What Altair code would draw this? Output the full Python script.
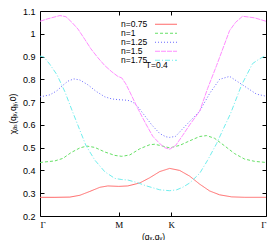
import altair as alt
import pandas as pd

# k-path coordinate: Gamma -> M -> K -> Gamma
tick_pos = [0.0, 0.79, 1.315, 2.265]
tick_lab = ["Γ", "M", "K", "Γ"]
y_ticks = [0.2, 0.3, 0.4, 0.5, 0.6, 0.7, 0.8, 0.9, 1, 1.1]

names = ["n=0.75", "n=1", "n=1.25", "n=1.5", "n=1.75"]
colors = ["#ff6a6a", "#66e066", "#6a6aff", "#ff8cff", "#70eeee"]
dashes = [[1, 0], [3, 2], [1, 2], [5, 1], [5, 2, 1, 2]]

x_075 = [0, 0.15, 0.30, 0.40, 0.50, 0.60, 0.68, 0.79, 0.88, 1.00, 1.10, 1.20, 1.30,
         1.40, 1.50, 1.60, 1.70, 1.80, 1.92, 2.05, 2.265]
y_075 = [0.282, 0.282, 0.283, 0.291, 0.308, 0.326, 0.332, 0.330, 0.332, 0.345, 0.368,
         0.395, 0.409, 0.400, 0.375, 0.340, 0.310, 0.293, 0.284, 0.282, 0.282]

x_100 = [0, 0.15, 0.23, 0.31, 0.40, 0.47, 0.55, 0.65, 0.75, 0.82, 0.90, 1.00, 1.10,
         1.15, 1.22, 1.30, 1.40, 1.50, 1.60, 1.67, 1.75, 1.85, 1.95, 2.05, 2.15, 2.265]
y_100 = [0.435, 0.442, 0.453, 0.478, 0.499, 0.507, 0.501, 0.481, 0.466, 0.462, 0.468,
         0.495, 0.513, 0.515, 0.508, 0.499, 0.510, 0.530, 0.549, 0.553, 0.541, 0.508,
         0.474, 0.450, 0.440, 0.435]

x_125 = [0, 0.10, 0.17, 0.23, 0.28, 0.34, 0.40, 0.48, 0.56, 0.65, 0.72, 0.78, 0.88,
         0.93, 0.98, 1.05, 1.12, 1.20, 1.26, 1.30, 1.36, 1.43, 1.50, 1.60, 1.70, 1.80,
         1.90, 1.98, 2.07, 2.17, 2.265]
y_125 = [0.723, 0.732, 0.750, 0.774, 0.792, 0.802, 0.797, 0.776, 0.748, 0.723, 0.714,
         0.711, 0.708, 0.700, 0.680, 0.640, 0.600, 0.562, 0.548, 0.545, 0.550, 0.583,
         0.615, 0.660, 0.738, 0.800, 0.813, 0.790, 0.764, 0.735, 0.726]

x_150 = [0, 0.08, 0.20, 0.26, 0.32, 0.38, 0.45, 0.51, 0.58, 0.65, 0.72, 0.78, 0.82,
         0.86, 0.90, 0.98, 1.06, 1.13, 1.20, 1.25, 1.30, 1.36, 1.43, 1.50, 1.60, 1.68,
         1.77, 1.90, 1.96, 2.03, 2.15, 2.265]
y_150 = [1.055, 1.066, 1.080, 1.075, 1.050, 1.021, 0.975, 0.934, 0.895, 0.860, 0.833,
         0.813, 0.806, 0.780, 0.745, 0.672, 0.605, 0.550, 0.518, 0.500, 0.493, 0.510,
         0.554, 0.600, 0.660, 0.760, 0.861, 1.014, 1.050, 1.077, 1.070, 1.055]

x_175 = [0, 0.04, 0.10, 0.17, 0.25, 0.32, 0.40, 0.46, 0.55, 0.65, 0.75, 0.82, 0.88,
         0.98, 1.06, 1.13, 1.20, 1.30, 1.37, 1.43, 1.50, 1.60, 1.68, 1.77, 1.84, 1.91,
         2.02, 2.13, 2.20, 2.265]
y_175 = [0.902, 0.898, 0.865, 0.820, 0.745, 0.665, 0.576, 0.510, 0.445, 0.394, 0.365,
         0.360, 0.358, 0.346, 0.333, 0.324, 0.315, 0.311, 0.315, 0.326, 0.345, 0.387,
         0.445, 0.518, 0.585, 0.650, 0.775, 0.869, 0.890, 0.905]

note_x = [1.06]
note_y = [0.865]
note_text = ["T=0.4"]

series = [(names[0], x_075, y_075), (names[1], x_100, y_100), (names[2], x_125, y_125),
          (names[3], x_150, y_150), (names[4], x_175, y_175)]
rows = []
for name, xs, ys in series:
    for i, (xv, yv) in enumerate(zip(xs, ys)):
        rows.append({"series": name, "x": xv, "y": yv, "order": i})
df = pd.DataFrame(rows)
note_df = pd.DataFrame({"x": note_x, "y": note_y, "text": note_text})

W, H = 226, 205
xscale = alt.Scale(domain=[tick_pos[0], tick_pos[-1]], nice=False, zero=False)
yscale = alt.Scale(domain=[0.2, 1.1], nice=False, zero=False)

pos_list = ",".join(str(p) for p in tick_pos)
lab_list = ",".join("'" + t + "'" for t in tick_lab)
xlabel_expr = f"[{lab_list}][indexof([{pos_list}], datum.value)]"

legend = alt.Legend(
    title=None, orient="none", legendX=72.5, legendY=9, padding=0,
    symbolType="M38.25,0H60.25", symbolSize=4, symbolStrokeWidth=1,
    symbolOffset=0, labelOffset=0, labelAlign="left",
    labelFont="Liberation Sans", labelFontSize=8.5, labelColor="black",
    rowPadding=-1,
)

lines = alt.Chart(df).mark_line(strokeWidth=1, clip=True).encode(
    x=alt.X("x:Q", scale=xscale, axis=alt.Axis(
        values=tick_pos, labelExpr=xlabel_expr, ticks=False, tickSize=0, domain=False,
        grid=False, title="(qₓ,qᵧ)", labelFont="Liberation Serif", labelFontSize=9,
        labelColor="black", labelPadding=4, titleFont="Liberation Sans",
        titleFontSize=8.5, titleFontWeight="normal", titleColor="black", titlePadding=3)),
    y=alt.Y("y:Q", scale=yscale, axis=alt.Axis(
        values=y_ticks, format="~g", ticks=False, tickSize=0, domain=False, grid=False,
        title="χₐₛ(qₓ,qᵧ,0)", labelFont="Liberation Sans", labelFontSize=9,
        labelColor="black", labelPadding=5, titleFont="Liberation Sans",
        titleFontSize=8.5, titleFontWeight="normal", titleColor="black", titlePadding=5)),
    color=alt.Color("series:N", scale=alt.Scale(domain=names, range=colors), legend=legend),
    strokeDash=alt.StrokeDash("series:N", scale=alt.Scale(domain=names, range=dashes), legend=legend),
    order="order:Q",
)

note = alt.Chart(note_df).mark_text(align="left", baseline="middle", fontSize=8.5,
                                    font="Liberation Sans", color="black").encode(
    x=alt.X("x:Q", scale=xscale, axis=None),
    y=alt.Y("y:Q", scale=yscale, axis=None),
    text="text:N",
)

def tick_layer(xorient, yorient):
    return alt.Chart(df).mark_point(opacity=0).encode(
        x=alt.X("x:Q", scale=xscale, axis=alt.Axis(
            orient=xorient, offset=-H, values=tick_pos[1:3], labels=False, domain=False,
            grid=False, ticks=True, tickSize=4, tickColor="black", title=None)),
        y=alt.Y("y:Q", scale=yscale, axis=alt.Axis(
            orient=yorient, offset=-W, values=y_ticks, labels=False, domain=False,
            grid=False, ticks=True, tickSize=4, tickColor="black", title=None)),
    )

chart = alt.layer(lines, note, tick_layer("top", "right"), tick_layer("bottom", "left")).resolve_scale(
    x="independent", y="independent"
).properties(
    width=W, height=H,
    autosize=alt.AutoSizeParams(type="none"),
    padding={"left": 32, "top": 3, "right": 6, "bottom": 24},
).configure_view(stroke="black", strokeWidth=1)

chart.save("out.html", embed_options={"renderer": "svg", "actions": False})
